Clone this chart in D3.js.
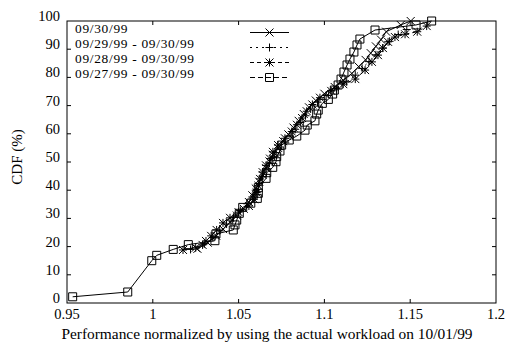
<!DOCTYPE html>
<html><head><meta charset="utf-8">
<script src="https://cdn.jsdelivr.net/npm/d3@7"></script>
<style>body{margin:0;background:#fff}svg{display:block}text{font-family:"Liberation Serif","Times New Roman",serif;fill:#000}</style>
</head><body><svg id="c" width="513" height="343"></svg>
<script>
const seriesNames = ["09/30/99","09/29/99 - 09/30/99","09/28/99 - 09/30/99","09/27/99 - 09/30/99"];
const xTicks = [0.95,1,1.05,1.1,1.15,1.2];
const xTickLabels = ["0.95","1","1.05","1.1","1.15","1.2"];
const yTicks = [0,10,20,30,40,50,60,70,80,90,100];
const s1X = [1.026,1.032,1.037,1.041,1.045,1.049,1.053,1.056,1.058,1.060,1.062,1.064,1.066,1.068,1.070,1.073,1.076,1.079,1.082,1.085,1.088,1.091,1.095,1.100,1.106,1.111,1.116,1.120,1.124,1.127,1.130,1.133,1.136,1.1445,1.1503];
const s1Y = [19.2,21.4,23.8,26.2,28.6,31.0,33.4,35.8,38.2,40.6,43.0,45.4,47.8,50.2,52.6,55.0,57.4,59.8,62.2,64.6,67.0,69.4,71.8,74.2,76.6,79.0,81.4,83.8,86.2,88.6,91.0,93.4,96.2,98.6,100];
const s2X = [1.022,1.030,1.035,1.039,1.043,1.047,1.051,1.055,1.058,1.060,1.062,1.064,1.066,1.068,1.071,1.074,1.077,1.080,1.083,1.086,1.089,1.092,1.096,1.101,1.107,1.113,1.118,1.122,1.126,1.130,1.134,1.138,1.143,1.148];
const s2Y = [19.0,21.0,23.2,25.6,28.0,30.4,32.8,35.2,37.6,40.0,42.4,44.8,47.2,49.6,52.0,54.4,56.8,59.2,61.6,64.0,66.4,68.8,71.2,73.6,76.0,78.4,80.8,83.2,85.6,88.0,90.4,92.8,95.2,97.0];
const s3X = [1.0176,1.0250,1.0290,1.0310,1.0340,1.0372,1.0409,1.0450,1.0500,1.0560,1.0590,1.0605,1.0615,1.0625,1.0640,1.0660,1.0683,1.0700,1.0730,1.0770,1.0810,1.0840,1.0870,1.0897,1.0930,1.0974,1.1040,1.1110,1.1180,1.1237,1.1277,1.1312,1.1341,1.1371,1.1411,1.1470,1.1541,1.1596];
const s3Y = [18.8,19.6,20.6,22.0,23.8,25.9,28.4,30.2,32.2,34.4,36.8,39.2,41.6,44.0,46.4,48.8,51.2,53.6,56.0,58.4,60.8,63.2,65.6,68.0,70.4,72.8,75.2,77.6,79.4,82.6,85.5,87.9,90.4,92.6,94.3,95.3,96.2,98.2];
const s4X = [0.9533,0.9854,0.9994,1.0023,1.0119,1.0207,1.0362,1.0368,1.0469,1.0479,1.0489,1.0504,1.0524,1.0571,1.0609,1.0615,1.0615,1.0660,1.0664,1.0699,1.0718,1.0722,1.0741,1.0751,1.0795,1.0839,1.0887,1.0900,1.0945,1.0955,1.0964,1.0988,1.1023,1.1048,1.1058,1.1080,1.1097,1.1114,1.1132,1.1149,1.1172,1.1190,1.1207,1.1295,1.1534,1.1625];
const s4Y = [2.2,3.9,15.0,16.9,19.0,20.7,22.1,24.5,25.9,27.7,29.4,31.8,33.9,35.4,37.1,38.9,40.9,44.2,46.2,48.1,50.1,51.9,53.9,56.0,57.8,59.2,61.3,63.1,64.6,67.0,68.4,70.8,72.2,74.1,75.5,77.3,79.4,81.9,84.4,86.5,89.0,91.5,93.6,96.8,98.6,100];

const svg = d3.select("#c");
const L=67,R=496,T=21,B=303;
const x = d3.scaleLinear().domain([0.95,1.2]).range([L,R]);
const y = d3.scaleLinear().domain([0,100]).range([B,T]);

svg.append("rect").attr("x",L).attr("y",T).attr("width",R-L).attr("height",B-T)
  .attr("fill","none").attr("stroke","#000").attr("stroke-width",1);
const tk=4;
xTicks.forEach((v,i)=>{
  if(i>0 && i<xTicks.length-1){
    svg.append("line").attr("x1",x(v)).attr("x2",x(v)).attr("y1",B).attr("y2",B-tk).attr("stroke","#000");
    svg.append("line").attr("x1",x(v)).attr("x2",x(v)).attr("y1",T).attr("y2",T+tk).attr("stroke","#000");
  }
  svg.append("text").attr("x",x(v)).attr("y",314).attr("text-anchor","middle")
    .attr("dominant-baseline","central").attr("font-size",14.5).text(xTickLabels[i]);
});
yTicks.forEach(v=>{
  if(v>0 && v<100){
    svg.append("line").attr("x1",L).attr("x2",L+tk).attr("y1",y(v)).attr("y2",y(v)).attr("stroke","#000");
    svg.append("line").attr("x1",R).attr("x2",R-tk).attr("y1",y(v)).attr("y2",y(v)).attr("stroke","#000");
  }
  svg.append("text").attr("x",60).attr("y",y(v)-5).attr("text-anchor","end")
    .attr("dominant-baseline","central").attr("font-size",14.5).text(v);
});
svg.append("text").attr("x",267).attr("y",333).attr("text-anchor","middle")
  .attr("dominant-baseline","central").attr("font-size",15.4)
  .text("Performance normalized by using the actual workload on 10/01/99");
svg.append("text").attr("transform","translate(17,157) rotate(-90)").attr("text-anchor","middle")
  .attr("dominant-baseline","central").attr("font-size",15).text("CDF (%)");

const ms=4;
function marker(g,type,cx,cy){
  const p = d3.path();
  if(type==="x"){p.moveTo(cx-ms,cy-ms);p.lineTo(cx+ms,cy+ms);p.moveTo(cx-ms,cy+ms);p.lineTo(cx+ms,cy-ms);}
  else if(type==="+"){p.moveTo(cx-ms,cy);p.lineTo(cx+ms,cy);p.moveTo(cx,cy-ms);p.lineTo(cx,cy+ms);}
  else if(type==="*"){p.moveTo(cx-ms,cy);p.lineTo(cx+ms,cy);p.moveTo(cx,cy-ms);p.lineTo(cx,cy+ms);
    p.moveTo(cx-ms,cy-ms);p.lineTo(cx+ms,cy+ms);p.moveTo(cx-ms,cy+ms);p.lineTo(cx+ms,cy-ms);}
  else {p.rect(cx-ms,cy-ms,2*ms,2*ms);}
  g.append("path").attr("d",p.toString()).attr("fill","none").attr("stroke","#000").attr("stroke-width",1);
}
const series = [
  {X:s1X,Y:s1Y,m:"x",dash:null,legDash:null},
  {X:s2X,Y:s2Y,m:"+",dash:"2,4",legDash:"2,4"},
  {X:s3X,Y:s3Y,m:"*",dash:"4,3",legDash:"4,3"},
  {X:s4X,Y:s4Y,m:"s",dash:null,legDash:"5,3"}
];
const line = d3.line().x(d=>x(d[0])).y(d=>y(d[1]));
series.forEach((s,i)=>{
  const g = svg.append("g");
  const pts = s.X.map((v,j)=>[v,s.Y[j]]);
  g.append("path").attr("d",line(pts)).attr("fill","none").attr("stroke","#000")
    .attr("stroke-width",1).attr("stroke-dasharray",s.dash);
  pts.forEach(p=>marker(g,s.m,x(p[0]),y(p[1])));
  const ly = 32.5+15*i;
  svg.append("text").attr("x",75).attr("y",ly-4.5).attr("dominant-baseline","central")
    .attr("font-size",13.4).attr("letter-spacing",0.7).text(seriesNames[i]);
  svg.append("line").attr("x1",250).attr("x2",289).attr("y1",ly).attr("y2",ly)
    .attr("stroke","#000").attr("stroke-width",1).attr("stroke-dasharray",s.legDash);
  marker(svg,s.m,269.5,ly);
});
</script></body></html>
